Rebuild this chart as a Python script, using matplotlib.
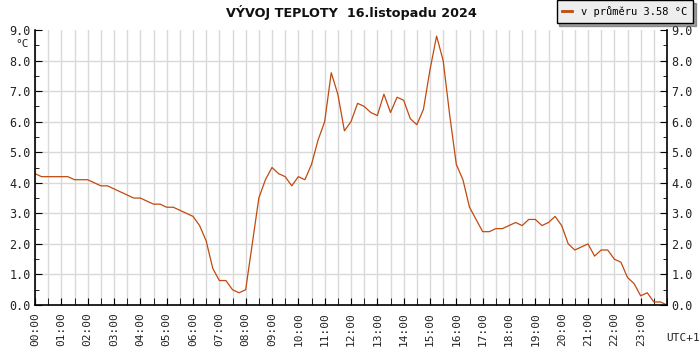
import numpy as np
import matplotlib
matplotlib.use("Agg")
import matplotlib.pyplot as plt
from matplotlib.ticker import MultipleLocator

# temperatures every 15 minutes, 00:00 .. 24:00
temps = [4.3, 4.2, 4.2, 4.2, 4.2, 4.2, 4.1, 4.1, 4.1, 4.0, 3.9, 3.9,
         3.8, 3.7, 3.6, 3.5, 3.5, 3.4, 3.3, 3.3, 3.2, 3.2, 3.1, 3.0,
         2.9, 2.6, 2.1, 1.2, 0.8, 0.8, 0.5, 0.4, 0.5, 2.0, 3.5, 4.1,
         4.5, 4.3, 4.2, 3.9, 4.2, 4.1, 4.6, 5.4, 6.0, 7.6, 6.9, 5.7,
         6.0, 6.6, 6.5, 6.3, 6.2, 6.9, 6.3, 6.8, 6.7, 6.1, 5.9, 6.4,
         7.7, 8.8, 8.0, 6.2, 4.6, 4.1, 3.2, 2.8, 2.4, 2.4, 2.5, 2.5,
         2.6, 2.7, 2.6, 2.8, 2.8, 2.6, 2.7, 2.9, 2.6, 2.0, 1.8, 1.9,
         2.0, 1.6, 1.8, 1.8, 1.5, 1.4, 0.9, 0.7, 0.3, 0.4, 0.1, 0.1,
         0.0]
hour_labels = ["%02d:00" % h for h in range(24)]
y_labels = ["%.1f" % v for v in range(10)]

title = "VÝVOJ TEPLOTY  16.listopadu 2024"
legend_label = "v průměru 3.58 °C"

hours = np.arange(len(temps)) * 0.25
mono = "DejaVu Sans Mono"

fig = plt.figure(figsize=(7, 3.5), dpi=100)
ax = fig.add_axes([35 / 700, 1 - 305 / 350, 632 / 700, 275 / 350])

ax.plot(hours, temps, color="#c04a10", lw=0.9, label=legend_label)

ax.set_xlim(0, 24)
ax.set_ylim(0, 9)

# grid
ax.xaxis.set_major_locator(MultipleLocator(1))
ax.xaxis.set_minor_locator(MultipleLocator(0.5))
ax.yaxis.set_major_locator(MultipleLocator(1))
ax.yaxis.set_minor_locator(MultipleLocator(0.5))
ax.set_yticks(range(10))
ax.set_yticklabels(y_labels)
ax.set_xticks(range(24))
ax.set_xticklabels(hour_labels, rotation=90)
ax.grid(which="major", axis="y", color="#d9d9d9", lw=1)
ax.grid(which="both", axis="x", color="#d9d9d9", lw=1)
ax.set_axisbelow(True)
ax.get_ygridlines()[-1].set_visible(False)

ax.spines["top"].set_visible(False)
for s in ["left", "bottom", "right"]:
    ax.spines[s].set_linewidth(1.2)

ax.tick_params(axis="both", which="both", direction="in", color="black")
ax.tick_params(axis="x", which="both", length=5, labelsize=8, pad=5)
ax.tick_params(axis="y", which="major", length=5, labelsize=8.5, pad=3,
               right=True, labelright=True)
ax.tick_params(axis="y", which="minor", length=3, right=True)
for lab in ax.get_xticklabels() + ax.get_yticklabels():
    lab.set_family(mono)
    lab.set_color("#222222")

fig.text(22 / 700, 1 - 44 / 350, "°C", fontsize=8, family=mono,
         ha="center", va="center", color="#222222")
fig.text(683 / 700, 1 - 338 / 350, "UTC+1", fontsize=8, family=mono,
         ha="center", va="center", color="#222222")
fig.text(351 / 700, 1 - 12 / 350, title, fontsize=9.2, fontweight="bold",
         ha="center", va="center", color="#111111")

leg = ax.legend(loc="upper right", bbox_to_anchor=(693 / 700, 1 - 0.5 / 350),
                bbox_transform=fig.transFigure, fancybox=False, shadow=True,
                framealpha=1, facecolor="#eeeeee", edgecolor="black",
                handlelength=0.9, handletextpad=0.9, borderpad=0.55,
                borderaxespad=0, prop={"family": mono, "size": 7.5})
leg.get_frame().set_linewidth(1)
for line in leg.get_lines():
    line.set_linewidth(2)

fig.savefig("out.png", dpi=100)
